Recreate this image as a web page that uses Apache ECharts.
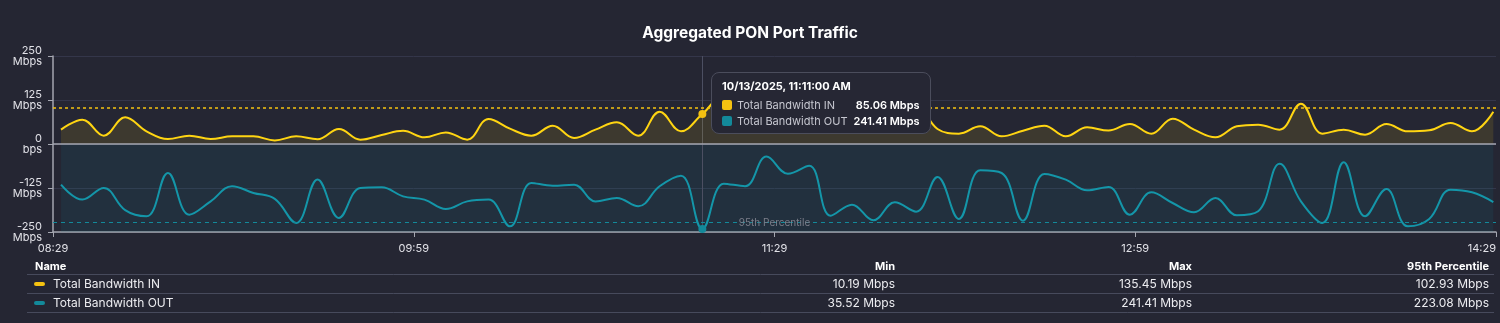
<!DOCTYPE html>
<html>
<head>
<meta charset="utf-8">
<title>Aggregated PON Port Traffic</title>
<script src="https://cdn.jsdelivr.net/npm/echarts@6.0.0/dist/echarts.min.js"></script>
<style>
  html, body { margin: 0; padding: 0; background: #252633; }
  #chart { width: 1500px; height: 323px; }
</style>
</head>
<body>
<div id="chart"></div>
<script>
const chartTitle = 'Aggregated PON Port Traffic';
const seriesNames = ['Total Bandwidth IN', 'Total Bandwidth OUT'];
const axisStart = new Date(2025, 9, 13, 8, 29, 0);
const firstSample = 120; // seconds after axis start (08:31:00)
const sampleStep = 320; // seconds between samples
const tickLabels = ['08:29', '09:59', '11:29', '12:59', '14:29'];

// Mbps, one value per sample
const inMbps = [
  40.7, 69.1, 23.7, 75.8, 36.0, 14.2, 23.7, 14.2, 21.8, 21.8,
  10.19, 21.8, 13.3, 42.6, 12.3, 25.6, 37.5, 19.0, 33.0, 12.3,
  71.0, 43.6, 23.7, 52.0, 17.0, 40.7, 61.6, 23.7, 91.9, 36.0,
  85.06, 135.45, 106.0, 70.0, 35.8, 78.0, 58.0, 96.0, 62.0, 35.8,
  112.0, 42.6, 29.4, 50.2, 21.8, 37.9, 52.0, 21.8, 47.3, 38.3,
  56.8, 29.4, 72.0, 40.7, 18.9, 50.2, 54.9, 40.7, 114.6, 29.4,
  40.7, 26.5, 56.8, 36.0, 38.8, 59.7, 36.0, 91.9
];
const outMbps = [
  115.5, 158.0, 125.0, 188.0, 205.5, 82.4, 200.8, 163.0, 120.0, 139.0,
  156.0, 224.4, 101.0, 210.0, 125.0, 123.0, 148.7, 158.0, 184.7, 163.0,
  158.0, 234.0, 110.8, 118.4, 115.5, 163.0, 153.4, 177.0, 120.0, 89.9,
  241.41, 112.7, 120.0, 35.52, 84.3, 61.6, 203.6, 172.3, 216.9, 165.7,
  192.2, 93.8, 213.0, 74.8, 82.4, 217.8, 85.2, 101.3, 131.6, 122.0,
  200.8, 137.3, 167.6, 194.1, 153.4, 202.7, 191.3, 55.9, 162.9, 224.4,
  52.1, 205.5, 127.8, 233.9, 213.0, 129.7, 137.3, 164.8
];

const statHeaders = ['Name', 'Min', 'Max', '95th Percentile'];
const minMbps = [10.19, 35.52];
const maxMbps = [135.45, 241.41];
const p95Mbps = [102.93, 223.08];
const tooltipIndex = 30;

const colors = ['#f5c211', '#13899a'];
const bg = '#252633';
const font = 'Inter, "Noto Sans", sans-serif';
const yMin = -250, yMax = 250, yStep = 125;
const xSpan = 21600, xStep = 5400;

const xOf = i => firstSample + i * sampleStep;
const inData = inMbps.map((v, i) => [xOf(i), v]);
const outData = outMbps.map((v, i) => [xOf(i), -v]);

const chart = echarts.init(document.getElementById('chart'));

// stats table under the chart
const colRight = [null, 895, 1192, 1489];
const rowY = [267, 284, 303];
const lineY = [274.5, 293.5, 312.5];
const table = [];
statHeaders.forEach((h, c) => {
  table.push({
    type: 'text', x: c === 0 ? 35 : colRight[c], y: rowY[0],
    style: { text: h, fill: '#ffffff', font: 'bold 11px ' + font,
      textAlign: c === 0 ? 'left' : 'right', textVerticalAlign: 'middle' }
  });
});
lineY.forEach(y => {
  table.push({ type: 'line', shape: { x1: 27, y1: y, x2: 1494, y2: y },
    style: { stroke: '#474a5c', lineWidth: 1 } });
});
seriesNames.forEach((name, r) => {
  const y = rowY[r + 1];
  table.push({ type: 'rect', shape: { x: 34, y: y - 2, width: 11, height: 4, r: 2 },
    style: { fill: colors[r] } });
  table.push({ type: 'text', x: 53, y: y,
    style: { text: name, fill: '#ececf0', font: '12px ' + font, textVerticalAlign: 'middle' } });
  [minMbps[r], maxMbps[r], p95Mbps[r]].forEach((v, c) => {
    table.push({ type: 'text', x: colRight[c + 1], y: y,
      style: { text: v.toFixed(2) + ' Mbps', fill: '#ececf0', font: '12px ' + font,
        textAlign: 'right', textVerticalAlign: 'middle' } });
  });
});

const pctLabel = {
  show: true, formatter: '95th Percentile', position: 'middle', distance: -5,
  color: '#7c7e8a', fontSize: 10, fontFamily: font
};

const option = {
  backgroundColor: bg,
  animation: false,
  color: colors,
  title: {
    text: chartTitle, left: 'center', top: 20,
    textStyle: { color: '#ffffff', fontSize: 15.5, fontWeight: 'bold', fontFamily: font }
  },
  grid: { left: 53, right: 4, top: 56, bottom: 91 },
  tooltip: {
    trigger: 'axis',
    alwaysShowContent: true,
    backgroundColor: '#262734',
    borderColor: '#4b4d5c',
    borderWidth: 1,
    padding: [5, 10, 4, 10],
    extraCssText: 'border-radius:8px;box-shadow:none;',
    textStyle: { color: '#ffffff', fontSize: 11, fontFamily: font },
    axisPointer: { type: 'line', z: 1, lineStyle: { color: '#4c4f62', width: 1, type: 'solid' } },
    position: point => [point[0] + 9, 72],
    formatter: params => {
      const x = params[0].value[0];
      const when = new Date(axisStart.getTime() + x * 1000).toLocaleString('en-US');
      let html = '<div style="font-weight:700;line-height:16px;margin-bottom:3px">' + when + '</div>';
      params.forEach(p => {
        const v = [inMbps, outMbps][p.seriesIndex][p.dataIndex];
        html += '<div style="display:flex;align-items:center;line-height:16px">' +
          '<span style="display:inline-block;width:10px;height:10px;border-radius:2px;background:' +
          colors[p.seriesIndex] + ';margin-right:5px"></span>' +
          '<span style="color:#c6c7d0;flex:1;margin-right:6px">' + p.seriesName + '</span>' +
          '<span style="font-weight:600">' + v.toFixed(2) + ' Mbps</span></div>';
      });
      return html;
    }
  },
  xAxis: {
    type: 'value',
    min: 0, max: xSpan, interval: xStep,
    axisLine: { onZero: false, lineStyle: { color: '#a4a6b0', width: 1.5 } },
    axisTick: { show: true, length: 5, lineStyle: { color: '#a4a6b0' } },
    splitLine: { show: false },
    axisLabel: {
      color: '#e2e2e8', fontSize: 11, fontFamily: font, margin: 11,
      alignMaxLabel: 'right',
      formatter: v => tickLabels[Math.round(v / xStep)]
    }
  },
  yAxis: {
    type: 'value',
    min: yMin, max: yMax, interval: yStep,
    axisLine: { show: true, lineStyle: { color: '#a4a6b0', width: 1.5 } },
    axisTick: { show: true, length: 5, lineStyle: { color: '#a4a6b0' } },
    splitLine: { lineStyle: { color: '#34364a', width: 1 } },
    axisLabel: {
      color: '#e2e2e8', fontSize: 11, fontFamily: font, lineHeight: 11, margin: 11,
      formatter: v => v === 0 ? '0\nbps' : v + '\nMbps'
    }
  },
  graphic: { elements: table },
  series: [
    {
      name: seriesNames[0],
      type: 'line',
      data: inData,
      smooth: 0.4,
      showSymbol: false,
      symbol: 'circle',
      symbolSize: 8,
      lineStyle: { width: 2, color: colors[0] },
      itemStyle: { color: colors[0], borderWidth: 0 },
      emphasis: { scale: false, itemStyle: { color: colors[0], borderWidth: 0 } },
      areaStyle: { color: 'rgba(245,194,17,0.16)', origin: 0 },
      z: 3,
      markLine: {
        silent: true,
        symbol: 'none',
        data: [
          { yAxis: p95Mbps[0], lineStyle: { color: colors[0], type: [3, 3], width: 1.5 }, label: pctLabel },
          { yAxis: 0, lineStyle: { color: '#a4a6b0', type: 'solid', width: 1.5 }, label: { show: false } }
        ]
      }
    },
    {
      name: seriesNames[1],
      type: 'line',
      data: outData,
      smooth: 0.4,
      showSymbol: false,
      symbol: 'circle',
      symbolSize: 8,
      lineStyle: { width: 2, color: colors[1] },
      itemStyle: { color: colors[1], borderWidth: 0 },
      emphasis: { scale: false, itemStyle: { color: colors[1], borderWidth: 0 } },
      z: 3,
      markArea: {
        silent: true,
        itemStyle: { color: 'rgba(19,137,154,0.11)' },
        data: [[{ xAxis: inData[0][0], yAxis: 0 }, { xAxis: inData[inData.length - 1][0], yAxis: yMin }]]
      },
      markLine: {
        silent: true,
        symbol: 'none',
        data: [
          { yAxis: -p95Mbps[1], lineStyle: { color: colors[1], type: [4, 4], width: 1 }, label: pctLabel }
        ]
      }
    }
  ]
};

chart.setOption(option);
chart.dispatchAction({ type: 'showTip', seriesIndex: 0, dataIndex: tooltipIndex });
</script>
</body>
</html>
